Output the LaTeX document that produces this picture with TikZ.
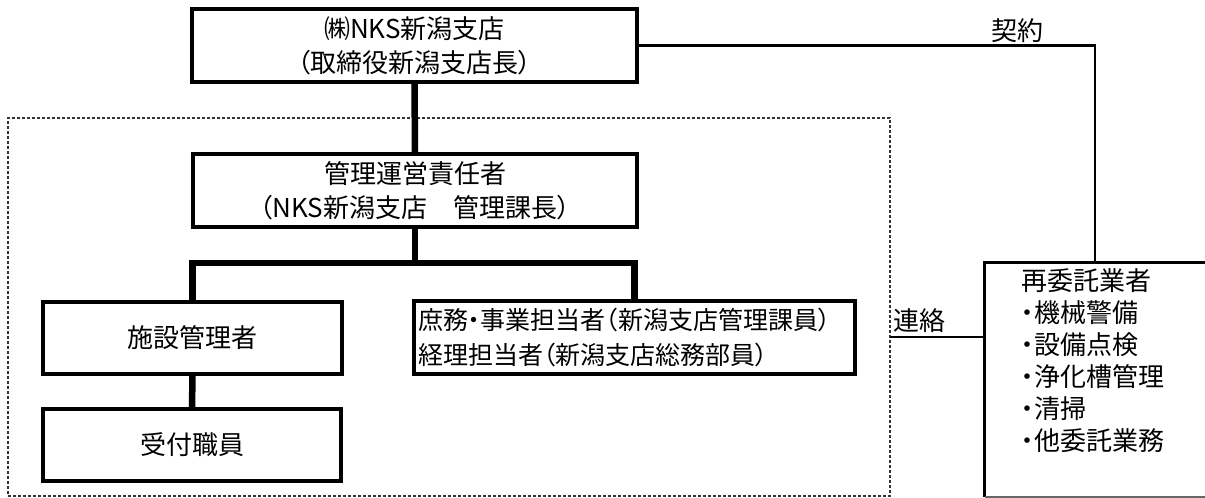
\documentclass[tikz,border=0pt]{standalone}
\usepackage{fontspec}
\setmainfont{Noto Sans CJK JP}[RawFeature={+palt}]
\begin{document}
\begin{tikzpicture}[x=1pt,y=-1pt,
  box/.style={draw, line width=3.3pt, rectangle, inner sep=4pt, font=\fontsize{26}{34}\selectfont, align=center},
  thickconn/.style={line width=6.5pt},
  thinconn/.style={line width=2.8pt},
  lbl/.style={font=\fontsize{26}{30}\selectfont, inner sep=0pt}]
\useasboundingbox (0,0) rectangle (1205,498);
\node[draw=black!80, densely dashed, line width=1.3pt, minimum width=882pt, minimum height=378pt, inner sep=0pt] (frame) at (449,307) {};
\node[box, minimum width=445pt, minimum height=73pt] (top) at (414.5,45.5) {㈱NKS新潟支店\\（取締役新潟支店長）};
\node[box, minimum width=444pt, minimum height=73pt] (mgmt) at (415,190.5) {管理運営責任者\\（NKS新潟支店　管理課長）};
\node[box, minimum width=299pt, minimum height=72pt] (fac) at (192.5,338) {施設管理者};
\node[box, minimum width=298pt, minimum height=72pt] (recep) at (192,445) {受付職員};
\node[box, align=left, text width=433pt, minimum height=73pt, font=\fontsize{25}{35}\selectfont] (admin) at (634.5,337.5) {庶務・事業担当者（新潟支店管理課員）\\経理担当者（新潟支店総務部員）};
\node[minimum width=220pt, minimum height=234pt, inner sep=0pt] (sub) at (1095,380) {};
\draw[line width=2.8pt] (sub.north east) -- (sub.north west) -- (sub.south west);
\draw[black!60, line width=1.5pt] (sub.south west) -- (sub.south east);
\node[anchor=north west, align=left, inner sep=0pt, font=\fontsize{26}{32}\selectfont] (subtxt) at (1021,268) {再委託業者\\・機械警備\\・設備点検\\・浄化槽管理\\・清掃\\・他委託業務};
\draw[thickconn] (top.south) -- (mgmt.north);
\coordinate (j) at (415,263);
\draw[thickconn] (mgmt.south) -- (j);
\draw[thickconn] (fac.north) |- (j) -| (admin.north);
\draw[thickconn] (fac.south) -- (recep.north);
\draw[thinconn] (top.east) -| (sub.north);
\node[lbl] (keiyaku) at (1017,31) {契約};
\coordinate (r) at (890,337);
\draw[thinconn] (r) -- (sub.west |- r);
\node[lbl] (renraku) at (919,321) {連絡};
\end{tikzpicture}
\end{document}
